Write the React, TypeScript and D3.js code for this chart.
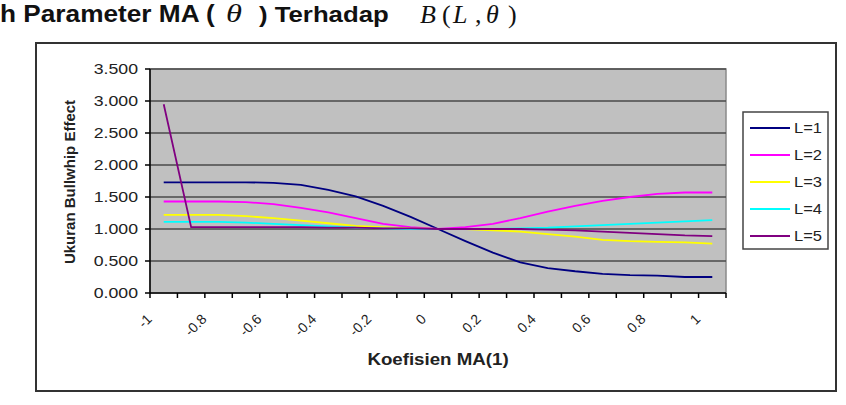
import * as d3 from "d3";

// koefisien MA(1), theta
const categories = [-1, -0.9, -0.8, -0.7, -0.6, -0.5, -0.4, -0.3, -0.2, -0.1, 0, 0.1, 0.2, 0.3, 0.4, 0.5, 0.6, 0.7, 0.8, 0.9, 1];
const tickLabels = ["-1", "", "-0.8", "", "-0.6", "", "-0.4", "", "-0.2", "", "0", "", "0.2", "", "0.4", "", "0.6", "", "0.8", "", "1"];
const yTicks = [0, 0.5, 1, 1.5, 2, 2.5, 3, 3.5];

// ukuran bullwhip effect per lead time
const L1 = [1.73, 1.73, 1.73, 1.73, 1.72, 1.69, 1.61, 1.51, 1.36, 1.19, 1.0, 0.81, 0.63, 0.48, 0.39, 0.34, 0.3, 0.28, 0.27, 0.25, 0.25];
const L2 = [1.43, 1.43, 1.43, 1.42, 1.39, 1.33, 1.26, 1.17, 1.08, 1.03, 1.0, 1.03, 1.08, 1.17, 1.27, 1.36, 1.44, 1.5, 1.55, 1.57, 1.57];
const L3 = [1.22, 1.22, 1.22, 1.2, 1.17, 1.13, 1.09, 1.05, 1.03, 1.01, 1.0, 1.0, 0.98, 0.96, 0.92, 0.88, 0.83, 0.81, 0.8, 0.79, 0.77];
const L4 = [1.11, 1.11, 1.11, 1.1, 1.08, 1.06, 1.04, 1.02, 1.01, 1.0, 1.0, 1.0, 1.0, 1.01, 1.02, 1.04, 1.06, 1.08, 1.1, 1.12, 1.14];
const L5 = [2.95, 1.03, 1.03, 1.03, 1.03, 1.03, 1.02, 1.02, 1.01, 1.01, 1.0, 1.0, 1.0, 1.0, 0.99, 0.98, 0.96, 0.94, 0.92, 0.9, 0.89];

const seriesNames = ["L=1", "L=2", "L=3", "L=4", "L=5"];
const seriesValues = [L1, L2, L3, L4, L5];
const seriesColors = ["#000080", "#ff00ff", "#ffff00", "#00ffff", "#800080"];

const ARIAL = "Arial, 'Liberation Sans', sans-serif";
const TIMES = "'Times New Roman', 'Liberation Serif', serif";

export default function App() {
  const plot = { left: 150, right: 726, top: 69, bottom: 293 };

  const x = d3
    .scaleBand()
    .domain(categories.map(String))
    .range([plot.left, plot.right])
    .padding(0);
  const bw = x.bandwidth();
  const cx = (i: number) => (x(String(categories[i])) as number) + bw / 2;

  const y = d3.scaleLinear().domain([0, 3.5]).range([plot.bottom, plot.top]);
  const fmt = d3.format(".3f");

  const line = d3
    .line<number>()
    .x((d, i) => cx(i))
    .y((d) => y(d));

  const boundaries = categories.map((c) => x(String(c)) as number).concat([plot.right]);

  const legend = { x: 743, y: 112, w: 85, h: 137, row: 27 };
  const titleY = 22;

  return (
    <svg width={846} height={405} style={{ position: "absolute", left: 0, top: 0, background: "#fff" }}>
      {/* judul */}
      <g fontWeight="bold" fontFamily={ARIAL} fontSize={23} fill="#111">
        <text transform={`translate(0,${titleY}) scale(1.14,1)`}>h Parameter MA (</text>
        <text transform={`translate(259,${titleY}) scale(1.12,1)`}>) Terhadap</text>
      </g>
      <text transform={`translate(226,${titleY}) scale(1.25,1)`} fontFamily={TIMES} fontStyle="italic" fontSize={26} fill="#111">
        θ
      </text>
      <text y={titleY + 1} fontFamily={TIMES} fontSize={26} fill="#111">
        <tspan x={420} fontStyle="italic">B</tspan>
        <tspan x={442}>(</tspan>
        <tspan x={453} fontStyle="italic">L</tspan>
        <tspan x={475}>,</tspan>
        <tspan x={486} fontStyle="italic">θ</tspan>
        <tspan x={508}>)</tspan>
      </text>

      {/* bingkai chart */}
      <rect x={36} y={43} width={800} height={348} fill="#fff" stroke="#333" strokeWidth={2} />

      {/* plot area */}
      <rect
        x={plot.left}
        y={plot.top}
        width={plot.right - plot.left}
        height={plot.bottom - plot.top}
        fill="#c0c0c0"
        stroke="#8a8a8a"
        strokeWidth={1.5}
      />
      {yTicks.slice(1).map((t) => (
        <line key={t} x1={plot.left} x2={plot.right} y1={y(t)} y2={y(t)} stroke="#4a4a4a" strokeWidth={1.5} />
      ))}

      {/* sumbu */}
      <line x1={plot.left} x2={plot.left} y1={plot.top} y2={plot.bottom} stroke="#000" strokeWidth={1.5} />
      <line x1={plot.left} x2={plot.right} y1={plot.bottom} y2={plot.bottom} stroke="#000" strokeWidth={1.5} />
      {yTicks.map((t) => (
        <g key={t}>
          <line x1={plot.left - 5} x2={plot.left} y1={y(t)} y2={y(t)} stroke="#000" strokeWidth={1.5} />
          <text
            transform={`translate(138,${y(t) + 5}) scale(1.18,1)`}
            textAnchor="end"
            fontFamily={ARIAL}
            fontSize={15}
            fill="#222"
          >
            {fmt(t)}
          </text>
        </g>
      ))}
      {boundaries.map((b, i) => (
        <line key={i} x1={b} x2={b} y1={plot.bottom} y2={plot.bottom + 5} stroke="#000" strokeWidth={1.5} />
      ))}
      {tickLabels.map((lab, i) =>
        lab ? (
          <text
            key={i}
            transform={`translate(${cx(i) - 11},320) rotate(-45)`}
            textAnchor="end"
            fontFamily={ARIAL}
            fontSize={14}
            fill="#222"
          >
            {lab}
          </text>
        ) : null
      )}

      <text
        transform="translate(75,182) rotate(-90)"
        textAnchor="middle"
        fontFamily={ARIAL}
        fontWeight="bold"
        fontSize={15}
        fill="#222"
      >
        Ukuran Bullwhip Effect
      </text>
      <text
        transform={`translate(${(plot.left + plot.right) / 2},365) scale(1.1,1)`}
        textAnchor="middle"
        fontFamily={ARIAL}
        fontWeight="bold"
        fontSize={17}
        fill="#222"
      >
        Koefisien MA(1)
      </text>

      {/* garis seri */}
      {seriesValues.map((vals, k) => (
        <path key={k} d={line(vals) || ""} fill="none" stroke={seriesColors[k]} strokeWidth={1.8} />
      ))}

      {/* legenda */}
      <rect x={legend.x} y={legend.y} width={legend.w} height={legend.h} fill="#fff" stroke="#444" strokeWidth={1.5} />
      {seriesNames.map((name, k) => {
        const ry = legend.y + 16 + k * legend.row;
        return (
          <g key={name}>
            <line x1={legend.x + 7} x2={legend.x + 47} y1={ry} y2={ry} stroke={seriesColors[k]} strokeWidth={1.8} />
            <text
              transform={`translate(${legend.x + 51},${ry + 5}) scale(1.1,1)`}
              fontFamily={ARIAL}
              fontSize={15}
              fill="#222"
            >
              {name}
            </text>
          </g>
        );
      })}
    </svg>
  );
}
